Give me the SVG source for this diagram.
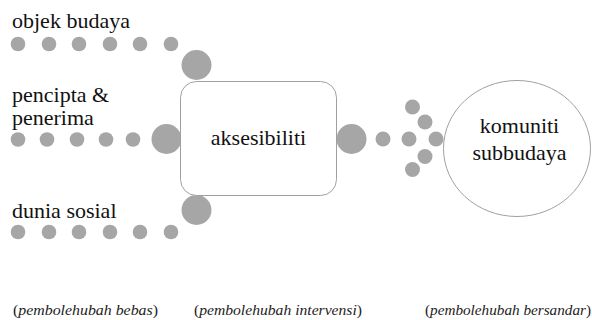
<svg xmlns="http://www.w3.org/2000/svg" width="592" height="320" viewBox="0 0 592 320" font-family="Liberation Serif, Times New Roman, Times, serif">
<style>
.dot{fill:#a6a6a6}
.lbl{font-size:22px;fill:#111}
.cap{font-size:14px;fill:#222}
.it{font-style:italic}
.box{fill:#fff;stroke:#a0a0a0;stroke-width:1}
</style>
<rect width="592" height="320" fill="#fff"/>
<g id="labels" font-family="Liberation Serif, Times New Roman, Times, serif">
<text class="lbl" x="12" y="28">objek budaya</text>
<text class="lbl" x="12" y="102">pencipta &amp;</text>
<text class="lbl" x="12" y="125">penerima</text>
<text class="lbl" x="12" y="218">dunia sosial</text>
</g>
<g id="connectors">
<g id="row-objek">
<circle class="dot" cx="18" cy="44" r="7.3"/>
<circle class="dot" cx="49" cy="44" r="7.3"/>
<circle class="dot" cx="79" cy="44" r="7.3"/>
<circle class="dot" cx="110" cy="44" r="7.3"/>
<circle class="dot" cx="140" cy="44" r="7.3"/>
<circle class="dot" cx="171" cy="44" r="7.3"/>
<circle class="dot" cx="196.5" cy="65" r="15"/>
</g>
<g id="row-pencipta">
<circle class="dot" cx="18" cy="139.5" r="7.3"/>
<circle class="dot" cx="47" cy="139.5" r="7.3"/>
<circle class="dot" cx="77" cy="139.5" r="7.3"/>
<circle class="dot" cx="106" cy="139.5" r="7.3"/>
<circle class="dot" cx="133" cy="139.5" r="7.3"/>
<circle class="dot" cx="166.5" cy="139" r="15"/>
</g>
<g id="row-dunia">
<circle class="dot" cx="18" cy="232" r="7.3"/>
<circle class="dot" cx="49" cy="232" r="7.3"/>
<circle class="dot" cx="79" cy="232" r="7.3"/>
<circle class="dot" cx="110" cy="232" r="7.3"/>
<circle class="dot" cx="140" cy="232" r="7.3"/>
<circle class="dot" cx="171" cy="232" r="7.3"/>
<circle class="dot" cx="196.5" cy="210" r="15"/>
</g>
<g id="out">
<circle class="dot" cx="351.5" cy="139" r="15"/>
<circle class="dot" cx="383" cy="139" r="7.5"/>
<circle class="dot" cx="409" cy="139" r="7.5"/>
<circle class="dot" cx="436" cy="139" r="7.5"/>
<circle class="dot" cx="412.5" cy="107" r="7.5"/>
<circle class="dot" cx="425" cy="122" r="7.5"/>
<circle class="dot" cx="425" cy="156.5" r="7.5"/>
<circle class="dot" cx="412.5" cy="169.5" r="7.5"/>
</g>
</g>
<g id="aksesibiliti">
<rect class="box" x="180.5" y="81.5" width="156" height="114" rx="16"/>
<text class="lbl" x="258.5" y="145" text-anchor="middle" font-family="Liberation Serif, Times New Roman, Times, serif">aksesibiliti</text>
</g>
<g id="komuniti" font-family="Liberation Serif, Times New Roman, Times, serif">
<ellipse class="box" cx="517" cy="148.5" rx="73.5" ry="68"/>
<text class="lbl" x="519.5" y="133" text-anchor="middle">komuniti</text>
<text class="lbl" x="519.5" y="160" text-anchor="middle">subbudaya</text>
</g>
<g id="captions" font-family="Liberation Serif, Times New Roman, Times, serif">
<text class="cap" x="13" y="315" textLength="145" lengthAdjust="spacingAndGlyphs">(<tspan class="it">pembolehubah bebas</tspan>)</text>
<text class="cap" x="194" y="315" textLength="168" lengthAdjust="spacingAndGlyphs">(<tspan class="it">pembolehubah intervensi</tspan>)</text>
<text class="cap" x="425" y="315" textLength="166" lengthAdjust="spacingAndGlyphs">(<tspan class="it">pembolehubah bersandar</tspan>)</text>
</g>
</svg>
